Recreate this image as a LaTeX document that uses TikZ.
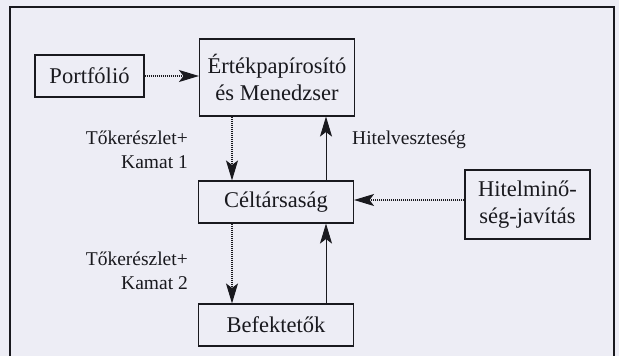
\documentclass[tikz,border=0pt]{standalone}
\usepackage{fontspec}
\setmainfont{Liberation Serif}
\usetikzlibrary{arrows.meta}
\definecolor{bg}{RGB}{237,237,245}
\definecolor{ink}{RGB}{25,25,30}
\begin{document}
\begin{tikzpicture}[x=1pt,y=-1pt,
  box/.style={draw=ink,line width=1.1pt,minimum height=42pt,inner sep=0pt,align=center,
    font=\fontsize{22.5}{27}\selectfont,text=ink},
  lbl/.style={inner sep=0pt,align=right,font=\fontsize{19.5}{24}\selectfont,text=ink},
  tip/.style={-{Stealth[length=20pt,width=12pt,inset=4.5pt]}},
  dotline/.style={tip,draw=ink,line width=1.1pt,dash pattern=on 1pt off 1pt},
  solidline/.style={tip,draw=ink,line width=0.9pt}]
\useasboundingbox (0,0) rectangle (619,356);
\fill[bg] (0,0) rectangle (619,356);
\draw[ink,line width=1.3pt] (10,362) -- (10,7) -- (614,7) -- (614,362);
\node[box,minimum width=109pt] (port) at (89.5,76) {Portfólió};
\node[box,minimum width=155pt,minimum height=77pt] (em) at (277,77.5) {Értékpapírosító\\és Menedzser};
\node[box,minimum width=155pt] (cel) at (276,202) {Céltársaság};
\node[box,minimum width=125pt,minimum height=69pt] (hit) at (527.5,204.5) {Hitelminő-\\ség-javítás};
\node[box,minimum width=155pt] (bef) at (276,325) {Befektetők};
\node[lbl,anchor=east] (l1) at (188,150) {Tőkerészlet+\\Kamat 1};
\node[lbl,anchor=east] (l2) at (188,271) {Tőkerészlet+\\Kamat 2};
\node[lbl,anchor=west,align=left] (l3) at (352,140) {Hitelveszteség};
\draw[dotline] (port.east) -- (em.west |- port.east);
\draw[dotline] (em.south -| 232,0) -- (cel.north -| 232,0);
\draw[solidline] (cel.north -| 326,0) -- (em.south -| 326,0);
\draw[dotline] (hit.west |- 0,200) -- (cel.east |- 0,200);
\draw[dotline] (cel.south -| 232,0) -- (bef.north -| 232,0);
\draw[solidline] (bef.north -| 326,0) -- (cel.south -| 326,0);
\end{tikzpicture}
\end{document}
